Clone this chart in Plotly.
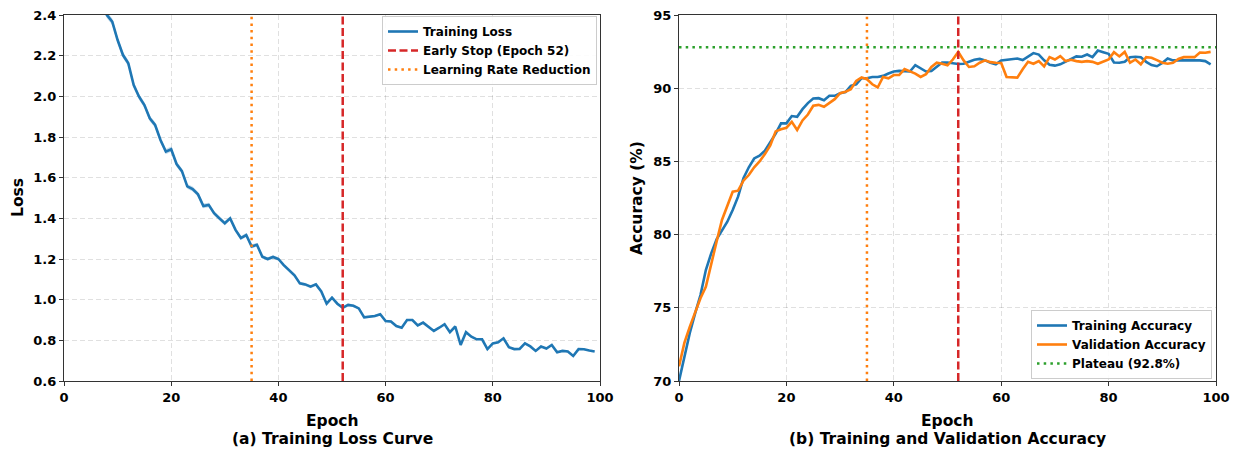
import plotly.graph_objects as go

W, H = 1235, 449

epochs = list(range(100))

train_loss = [2.95, 2.88, 2.81, 2.74, 2.67, 2.60, 2.53, 2.46,
              2.40, 2.367, 2.277, 2.203, 2.162, 2.056, 1.998, 1.957, 1.892, 1.859, 1.785, 1.728,
              1.74, 1.667, 1.632, 1.557, 1.544, 1.518, 1.461, 1.466, 1.425, 1.40,
              1.376, 1.40, 1.343, 1.303, 1.318, 1.262, 1.27, 1.211, 1.20, 1.21,
              1.20, 1.17, 1.146, 1.12, 1.08, 1.075, 1.064, 1.075, 1.04, 0.98,
              1.01, 0.98, 0.96, 0.974, 0.97, 0.957, 0.913, 0.916, 0.92, 0.928,
              0.895, 0.893, 0.87, 0.862, 0.90, 0.90, 0.873, 0.887, 0.868, 0.846,
              0.862, 0.879, 0.84, 0.868, 0.777, 0.84, 0.818, 0.805, 0.805, 0.757,
              0.785, 0.79, 0.81, 0.766, 0.757, 0.758, 0.785, 0.77, 0.748, 0.77,
              0.76, 0.777, 0.741, 0.748, 0.745, 0.723, 0.757, 0.756, 0.75, 0.745]

loss_std = [0.020, 0.020, 0.019, 0.019, 0.018, 0.018, 0.017, 0.017, 0.016, 0.016,
            0.016, 0.015, 0.015, 0.015, 0.015, 0.014, 0.014, 0.014, 0.014, 0.013,
            0.013, 0.013, 0.013, 0.012, 0.012, 0.012, 0.012, 0.011, 0.011, 0.011,
            0.011, 0.010, 0.010, 0.010, 0.010, 0.010, 0.009, 0.009, 0.009, 0.009,
            0.009, 0.008, 0.008, 0.008, 0.008, 0.008, 0.008, 0.007, 0.007, 0.007,
            0.007, 0.007, 0.007, 0.007, 0.006, 0.006, 0.006, 0.006, 0.006, 0.006,
            0.006, 0.006, 0.005, 0.005, 0.005, 0.005, 0.005, 0.005, 0.005, 0.005,
            0.005, 0.005, 0.005, 0.005, 0.005, 0.005, 0.004, 0.004, 0.004, 0.004,
            0.004, 0.004, 0.004, 0.004, 0.004, 0.004, 0.004, 0.004, 0.004, 0.004,
            0.004, 0.004, 0.004, 0.004, 0.004, 0.004, 0.004, 0.004, 0.004, 0.004]

train_acc = [70.0, 71.66, 73.26, 74.62, 75.87, 77.58, 78.72, 79.68, 80.31, 80.88,
             81.68, 82.59, 83.85, 84.6, 85.2, 85.39, 85.73, 86.3, 86.9, 87.6,
             87.6, 88.1, 88.05, 88.57, 88.98, 89.3, 89.32, 89.18, 89.48, 89.48,
             89.66, 89.73, 90.16, 90.27, 90.68, 90.68, 90.77, 90.77, 90.84, 91.0,
             91.14, 91.18, 91.14, 91.14, 91.57, 91.36, 91.14, 91.18, 91.48, 91.75,
             91.75, 91.68, 91.65, 91.67, 91.8, 91.94, 92.0, 91.9, 91.74, 91.63,
             91.9, 91.96, 92.0, 92.03, 91.92, 92.19, 92.4, 92.3, 91.9, 91.6,
             91.54, 91.63, 91.8, 92.0, 92.17, 92.15, 92.3, 92.12, 92.57, 92.46,
             92.35, 91.76, 91.74, 91.8, 92.12, 92.15, 92.12, 91.8, 91.58, 91.5,
             91.72, 92.03, 91.9, 91.9, 91.9, 91.92, 91.92, 91.9, 91.85, 91.63]

val_acc = [71.0, 72.6, 73.7, 74.73, 75.65, 76.44, 78.04, 79.52, 81.0, 81.9,
           82.93, 83.0, 83.68, 84.07, 84.6, 85.0, 85.5, 86.1, 87.05, 87.2,
           87.3, 87.7, 87.14, 87.8, 88.2, 88.8, 88.86, 88.73, 89.02, 89.25,
           89.66, 89.75, 89.93, 90.5, 90.73, 90.61, 90.27, 90.05, 90.77, 90.68,
           90.9, 90.9, 91.3, 91.15, 91.0, 90.77, 90.95, 91.45, 91.74, 91.67,
           91.56, 91.96, 92.48, 91.9, 91.45, 91.5, 91.74, 91.9, 91.78, 91.74,
           91.72, 90.77, 90.75, 90.72, 91.29, 91.8, 91.67, 91.85, 91.49, 92.12,
           91.96, 92.19, 91.85, 91.94, 91.85, 91.8, 91.85, 91.8, 91.67, 91.8,
           91.96, 92.46, 92.17, 92.48, 91.74, 91.96, 91.63, 92.12, 92.08, 91.92,
           91.74, 91.67, 91.74, 92.0, 92.12, 92.12, 92.12, 92.44, 92.42, 92.48]

early_stop_epoch = 52
lr_reduction_epoch = 35
plateau_value = 92.8

loss_range = [0.6, 2.4]
acc_range = [70, 95]
epoch_range = [0, 100]

loss_ticks = [0.6, 0.8, 1.0, 1.2, 1.4, 1.6, 1.8, 2.0, 2.2, 2.4]
acc_ticks = [70, 75, 80, 85, 90, 95]
epoch_ticks = [0, 20, 40, 60, 80, 100]

BLUE = "#1f77b4"
ORANGE = "#ff7f0e"
RED = "#d62728"
GREEN = "#2ca02c"
FONT = "DejaVu Sans"
DASH = "8px,3.5px"
DOT = "2.5px,4.2px"

# plot areas in pixels
L_X0, L_X1 = 64, 600
R_X0, R_X1 = 679, 1216
Y_TOP, Y_BOT = 15, 381
MT, MB = Y_TOP, H - Y_BOT
PH = Y_BOT - Y_TOP


def px_x(p):
    return p / W


def px_y(p):
    return (Y_BOT - p) / PH


fig = go.Figure()

# ---- left: loss ----
upper = [v + s for v, s in zip(train_loss, loss_std)]
lower = [v - s for v, s in zip(train_loss, loss_std)]
fig.add_trace(go.Scatter(x=epochs, y=upper, mode="lines", line=dict(width=0),
                         showlegend=False, hoverinfo="skip", xaxis="x", yaxis="y"))
fig.add_trace(go.Scatter(x=epochs, y=lower, mode="lines", line=dict(width=0),
                         fill="tonexty", fillcolor="rgba(31,119,180,0.25)",
                         showlegend=False, hoverinfo="skip", xaxis="x", yaxis="y"))
fig.add_trace(go.Scatter(x=epochs, y=train_loss, mode="lines", name="Training Loss",
                         line=dict(color=BLUE, width=2.6), xaxis="x", yaxis="y",
                         legend="legend"))
fig.add_trace(go.Scatter(x=[early_stop_epoch, early_stop_epoch], y=loss_range, mode="lines",
                         name=f"Early Stop (Epoch {early_stop_epoch})",
                         line=dict(color=RED, width=2.5, dash=DASH), xaxis="x", yaxis="y",
                         legend="legend"))
fig.add_trace(go.Scatter(x=[lr_reduction_epoch, lr_reduction_epoch], y=loss_range, mode="lines",
                         name="Learning Rate Reduction",
                         line=dict(color=ORANGE, width=2.5, dash=DOT), xaxis="x", yaxis="y",
                         legend="legend"))

# ---- right: accuracy ----
fig.add_trace(go.Scatter(x=epochs, y=train_acc, mode="lines", name="Training Accuracy",
                         line=dict(color=BLUE, width=2.6), xaxis="x2", yaxis="y2",
                         legend="legend2"))
fig.add_trace(go.Scatter(x=epochs, y=val_acc, mode="lines", name="Validation Accuracy",
                         line=dict(color=ORANGE, width=2.6), xaxis="x2", yaxis="y2",
                         legend="legend2"))
fig.add_trace(go.Scatter(x=epoch_range, y=[plateau_value, plateau_value], mode="lines",
                         name=f"Plateau ({plateau_value}%)",
                         line=dict(color=GREEN, width=2.5, dash=DOT), xaxis="x2", yaxis="y2",
                         legend="legend2"))
fig.add_trace(go.Scatter(x=[early_stop_epoch, early_stop_epoch], y=acc_range, mode="lines",
                         line=dict(color=RED, width=2.5, dash=DASH), xaxis="x2", yaxis="y2",
                         showlegend=False))
fig.add_trace(go.Scatter(x=[lr_reduction_epoch, lr_reduction_epoch], y=acc_range, mode="lines",
                         line=dict(color=ORANGE, width=2.5, dash=DOT), xaxis="x2", yaxis="y2",
                         showlegend=False))

tickfont = dict(family=FONT, size=13, color="black", weight="bold")
axis_common = dict(showline=True, linecolor="#333333", linewidth=1.2, mirror=True,
                   ticks="outside", ticklen=4, tickwidth=1.1, tickcolor="#333333",
                   showgrid=True, gridcolor="rgba(0,0,0,0.12)", griddash="5px,3px",
                   gridwidth=1, zeroline=False, tickfont=tickfont, automargin=False)

legend_font = dict(family=FONT, size=12, color="black", weight="bold")

fig.update_layout(
    width=W, height=H,
    margin=dict(l=0, r=0, t=MT, b=MB),
    paper_bgcolor="white", plot_bgcolor="white",
    font=dict(family=FONT, color="black"),
    xaxis=dict(domain=[px_x(L_X0), px_x(L_X1)], range=epoch_range, tickvals=epoch_ticks,
               anchor="y", **axis_common),
    yaxis=dict(domain=[0, 1], range=loss_range, tickvals=loss_ticks,
               ticktext=[f"{v:.1f}" for v in loss_ticks], anchor="x", **axis_common),
    xaxis2=dict(domain=[px_x(R_X0), px_x(R_X1)], range=epoch_range, tickvals=epoch_ticks,
                anchor="y2", **axis_common),
    yaxis2=dict(domain=[0, 1], range=acc_range, tickvals=acc_ticks, anchor="x2", **axis_common),
    legend=dict(x=px_x(597), y=px_y(16), xanchor="right", yanchor="top",
                bgcolor="rgba(255,255,255,0.9)", bordercolor="#cccccc", borderwidth=1,
                font=legend_font, traceorder="normal", tracegroupgap=0, itemwidth=30),
    legend2=dict(x=px_x(1212), y=px_y(379), xanchor="right", yanchor="bottom",
                 bgcolor="rgba(255,255,255,0.9)", bordercolor="#cccccc", borderwidth=1,
                 font=legend_font, traceorder="normal", tracegroupgap=0, itemwidth=30),
    showlegend=True,
)

title_font = dict(family=FONT, size=15.5, color="black", weight="bold")
annos = [
    dict(text="Loss", x=px_x(18), y=0.5, textangle=-90),
    dict(text="Accuracy (%)", x=px_x(637), y=0.5, textangle=-90),
    dict(text="Epoch", x=px_x((L_X0 + L_X1) / 2), y=px_y(421)),
    dict(text="(a) Training Loss Curve", x=px_x((L_X0 + L_X1) / 2), y=px_y(439)),
    dict(text="Epoch", x=px_x((R_X0 + R_X1) / 2), y=px_y(421)),
    dict(text="(b) Training and Validation Accuracy", x=px_x((R_X0 + R_X1) / 2), y=px_y(439)),
]
for a in annos:
    fig.add_annotation(xref="paper", yref="paper", showarrow=False, font=title_font,
                       xanchor="center", yanchor="middle", **a)

fig.write_html("out.html", config={"displayModeBar": False},
               post_script="document.body.style.margin='0px';document.body.style.overflow='hidden';")
